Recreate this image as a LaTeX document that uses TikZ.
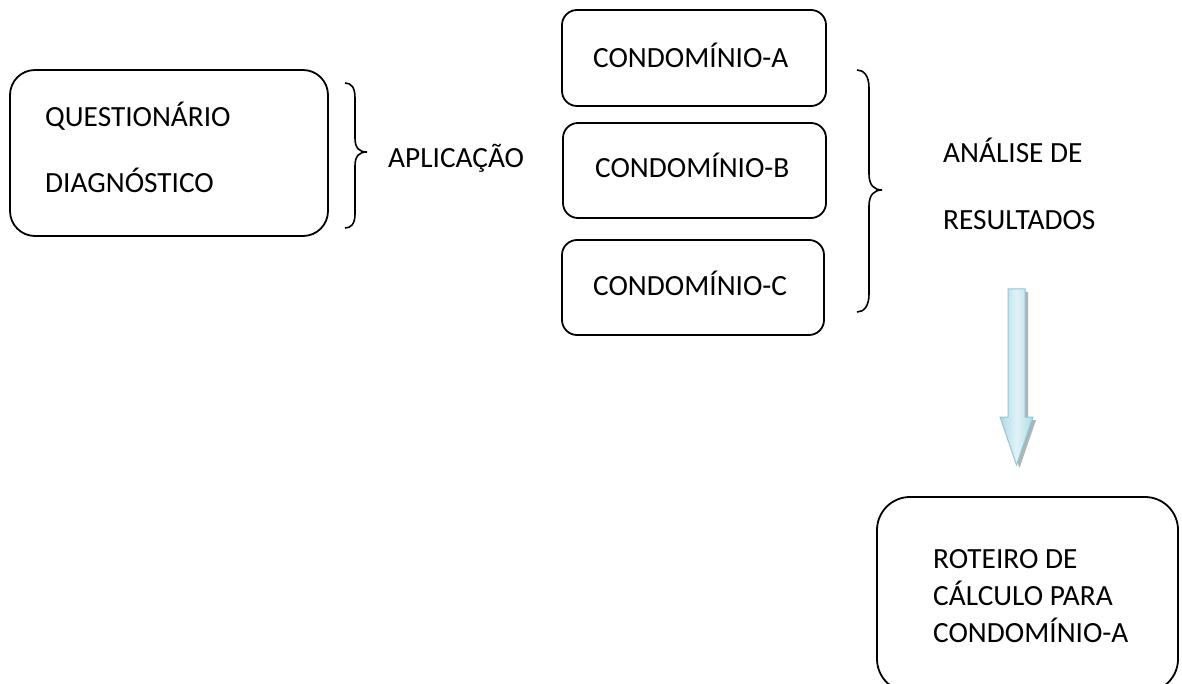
\documentclass[tikz,border=0pt]{standalone}
\usepackage{fontspec}
\setmainfont{Carlito}
\begin{document}
\begin{tikzpicture}[x=1pt,y=-1pt,
  box/.style={draw=black, line width=1.8pt, minimum width=#1, inner sep=0pt},
  lbl/.style={anchor=base west, inner sep=0pt, font=\fontsize{29.3}{34}\selectfont},
  brace/.style={draw=black, line width=1.6pt}]
\useasboundingbox (0,0) rectangle (1182,684);
% boxes
\node[box=318pt, minimum height=166pt, rounded corners=25pt] (q) at (169,153) {};
\node[box=264pt, minimum height=96pt, rounded corners=15pt] (ca) at (694,58) {};
\node[box=263pt, minimum height=95pt, rounded corners=15pt] (cb) at (694.5,170.5) {};
\node[box=262pt, minimum height=95pt, rounded corners=15pt] (cc) at (693,287.5) {};
\node[box=301pt, minimum height=195pt, rounded corners=33pt] (r) at (1027.5,594.5) {};
% texts
\node[lbl] (t1) at (45,127) {QUESTIONÁRIO};
\node[lbl] (t2) at (45,193) {DIAGNÓSTICO};
\node[lbl] (ap) at (388,168) {APLICAÇÃO};
\node[lbl] (ta) at (593,68) {CONDOMÍNIO-A};
\node[lbl] (tb) at (595,178) {CONDOMÍNIO-B};
\node[lbl] (tc) at (593,296) {CONDOMÍNIO-C};
\node[lbl] (an1) at (943,163) {ANÁLISE DE};
\node[lbl] (an2) at (943,230) {RESULTADOS};
\node[lbl] (r1) at (933,568) {ROTEIRO DE};
\node[lbl] (r2) at (933,605) {CÁLCULO PARA};
\node[lbl] (r3) at (933,642) {CONDOMÍNIO-A};
% braces
\draw[brace] (345,83) .. controls (351,83) and (355,87) .. (355,98) -- (355,138)
  .. controls (355,148) and (359,152) .. (367,152)
  .. controls (359,152) and (355,156) .. (355,166) -- (355,214)
  .. controls (355,224) and (351,228) .. (345,228);
\draw[brace] (857,70) .. controls (864,70) and (869,76) .. (869,88) -- (869,174)
  .. controls (869,185) and (874,190) .. (882,190)
  .. controls (874,190) and (869,195) .. (869,206) -- (869,294)
  .. controls (869,306) and (864,312) .. (857,312);
% block arrow
\coordinate (aTop) at (1016.5,289);
\coordinate (aTip) at (1016.5,465);
\fill[black!30] (1011,292) -- (1028,292) -- (1028,420) -- (1036,420) -- (1019.5,468) -- (1003,420) -- (1011,420) -- cycle;
\draw[draw={rgb,255:red,140;green,200;blue,215}, line width=1pt,
  left color={rgb,255:red,175;green,218;blue,230},
  right color={rgb,255:red,175;green,218;blue,230},
  middle color={rgb,255:red,225;green,242;blue,247}]
  (1008,289) -- (1025,289) -- (1025,417) -- (1033,417) -- (aTip) -- (1000,417) -- (1008,417) -- cycle;
\end{tikzpicture}
\end{document}
